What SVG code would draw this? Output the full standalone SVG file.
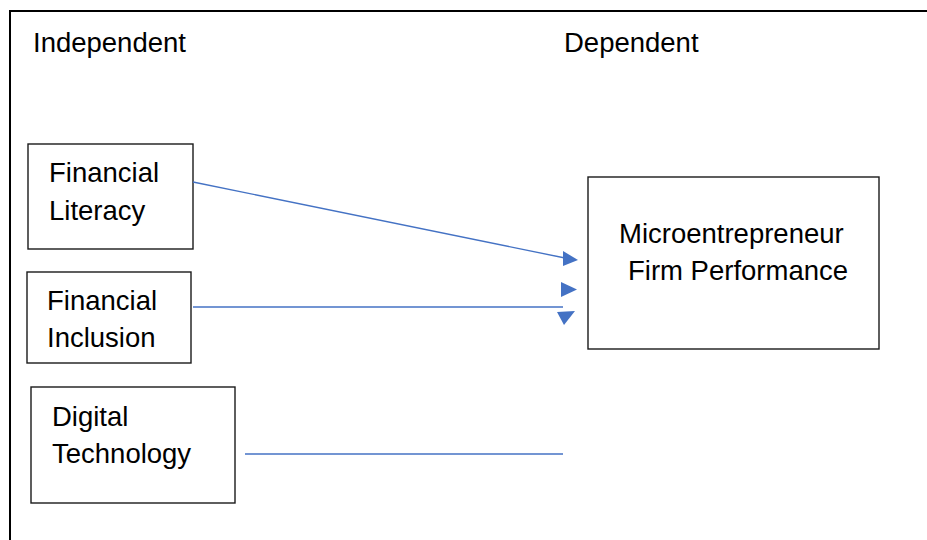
<svg xmlns="http://www.w3.org/2000/svg" width="927" height="540" viewBox="0 0 927 540">
<style>
  .frame{fill:none;stroke:#000;stroke-width:2}
  .box{fill:#fff;stroke:#1a1a1a;stroke-width:1.4}
  .lbl{font-family:"Liberation Sans",Arial,sans-serif;font-size:27.5px;fill:#000}
  .conn{stroke:#4472C4;stroke-width:1.4;fill:none}
  .head{fill:#4472C4;stroke:none}
</style>
<rect width="927" height="540" fill="#fff"/>
<rect class="frame" x="10" y="11" width="1000" height="600"/>
<g id="header">
  <text class="lbl" x="33" y="52">Independent</text>
  <text class="lbl" x="564" y="52">Dependent</text>
</g>
<g id="financial-literacy">
  <rect class="box" x="28" y="144" width="165" height="105"/>
  <text class="lbl" x="49" y="182">Financial</text>
  <text class="lbl" x="49" y="220">Literacy</text>
</g>
<g id="financial-inclusion">
  <rect class="box" x="27" y="272" width="164" height="91"/>
  <text class="lbl" x="47" y="310">Financial</text>
  <text class="lbl" x="47" y="347">Inclusion</text>
</g>
<g id="digital-technology">
  <rect class="box" x="31" y="387" width="204" height="116"/>
  <text class="lbl" x="52" y="426">Digital</text>
  <text class="lbl" x="52" y="463">Technology</text>
</g>
<g id="firm-performance">
  <rect class="box" x="588" y="177" width="291" height="172"/>
  <text class="lbl" x="619" y="243">Microentrepreneur</text>
  <text class="lbl" x="628" y="280">Firm Performance</text>
</g>
<g id="connectors">
  <line class="conn" x1="193" y1="182" x2="565" y2="258"/>
  <polygon class="head" points="563,251 563,266 578,260"/>
  <polygon class="head" points="561,282 561,297 577,289.5"/>
  <line class="conn" x1="193" y1="307" x2="563" y2="307"/>
  <polygon class="head" points="557,312 575,311 564,325"/>
  <line class="conn" x1="245" y1="454" x2="563" y2="454"/>
</g>
</svg>
